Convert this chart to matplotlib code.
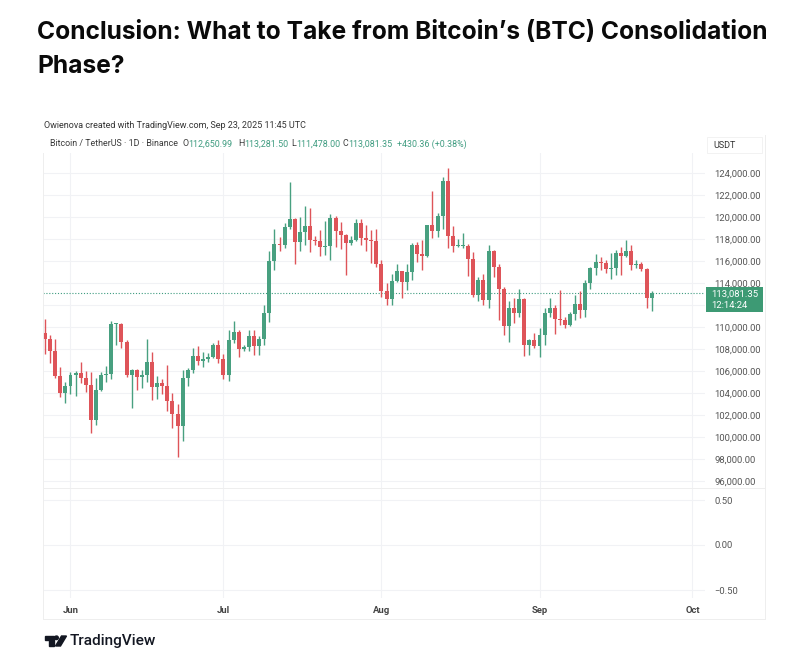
import matplotlib
matplotlib.use("Agg")
import matplotlib.pyplot as plt
import matplotlib.dates as mdates
from matplotlib.patches import Rectangle, Polygon, Ellipse
from matplotlib.lines import Line2D
import pandas as pd

plt.rcParams['font.family'] = ['Roboto', 'DejaVu Sans']

# daily BTC/USDT candles, 27 May - 23 Sep 2025
start_date = "2025-05-27"
opens = [109440, 108938, 107781, 105589, 103985, 104591, 105642, 105857, 105376, 104696,
         101508, 104288, 105600, 105735, 110263, 110274, 108645, 105671, 106066, 105414,
         105594, 106794, 104551, 104886, 104658, 103297, 102120, 100963, 105333, 106083,
         107340, 106947, 107047, 107296, 108356, 107135, 105681, 108849, 109584, 107984,
         108198, 109203, 108262, 108922, 111233, 115987, 117516, 117435, 119086, 119841,
         117758, 118630, 119177, 117924, 117840, 117265, 117380, 119954, 118756, 118340,
         117614, 117919, 119415, 118062, 117950, 117840, 115764, 113297, 112546, 114208,
         115058, 114129, 114992, 117472, 116674, 116462, 119294, 118686, 120134, 123306,
         118295, 117342, 117380, 117405, 116227, 112872, 114274, 112500, 116935, 115438,
         113493, 110111, 111763, 111262, 112566, 108377, 108816, 108246, 109237, 111240,
         111705, 110730, 110659, 110187, 111137, 112065, 111546, 113960, 115333, 115939,
         115800, 115268, 115349, 116697, 116447, 116939, 115632, 115719, 115232, 112651]
highs = [110718, 109300, 108910, 106325, 104990, 105900, 105980, 106794, 105970, 105909,
         105330, 105900, 106500, 110530, 110400, 110384, 108813, 106185, 106200, 106128,
         108952, 107750, 105550, 105250, 106524, 103990, 103000, 106128, 106290, 108135,
         108272, 107735, 107600, 108528, 108789, 107540, 109730, 110529, 109767, 108400,
         109700, 109700, 109200, 111999, 116868, 118869, 118200, 119488, 123218, 119940,
         120000, 120998, 120820, 118316, 118856, 119676, 120247, 120090, 119535, 118453,
         118300, 119800, 119800, 119273, 118792, 118920, 116052, 114000, 114774, 115720,
         115128, 115720, 117630, 117700, 117943, 119312, 122335, 120323, 123667, 124474,
         119216, 117999, 118575, 117543, 116800, 114575, 114820, 117429, 117000, 115700,
         113600, 112380, 112600, 113500, 112659, 108952, 109480, 109912, 111771, 112600,
         112000, 113384, 110900, 111350, 112870, 113238, 114313, 115500, 116665, 116332,
         116100, 116766, 117000, 117317, 117900, 117500, 116100, 115900, 115400, 113282]
lows = [107510, 106700, 105322, 103621, 103100, 103910, 103700, 104870, 104100, 100372,
        101095, 104200, 105000, 105318, 108355, 108086, 105500, 102664, 104300, 104496,
        104979, 103382, 103500, 103950, 102345, 100837, 98200, 99613, 104622, 105800,
        106560, 106356, 106800, 107208, 106733, 105250, 105100, 108530, 107245, 107800,
        107800, 107429, 107460, 108347, 110500, 115222, 116900, 117224, 118905, 115736,
        116950, 117453, 116812, 117453, 116467, 116515, 116128, 117301, 117050, 114723,
        117500, 117840, 117427, 116950, 115800, 115500, 112722, 112000, 112000, 114110,
        112650, 113355, 114259, 115878, 115200, 116361, 118050, 118207, 118920, 117180,
        116803, 117250, 117172, 114640, 112732, 112380, 112000, 111684, 114560, 110600,
        109300, 108666, 110344, 110870, 107350, 107463, 108100, 107255, 108393, 110900,
        109330, 110200, 109952, 110100, 110600, 110783, 110925, 113430, 114768, 115209,
        114900, 114384, 114750, 114723, 116356, 115171, 115400, 115100, 111700, 111478]
closes = [108938, 107781, 105589, 103985, 104591, 105642, 105857, 105376, 104696, 101508,
          104288, 105600, 105735, 110263, 110274, 108645, 105671, 106066, 105414, 105594,
          106794, 104551, 104886, 104658, 103297, 102120, 100963, 105333, 106083, 107340,
          106947, 107047, 107296, 108356, 107135, 105681, 108849, 109584, 107984, 108198,
          109203, 108262, 108922, 111233, 115987, 117516, 117435, 119086, 119841, 117758,
          118630, 119177, 117924, 117840, 117265, 117380, 119954, 118756, 118340, 117614,
          117919, 119415, 118062, 117950, 117840, 115764, 113297, 112546, 114208, 115058,
          114129, 114992, 117472, 116674, 116462, 119294, 118686, 120134, 123306, 118295,
          117342, 117380, 117405, 116227, 112872, 114274, 112500, 116935, 115438, 113493,
          110111, 111763, 111262, 112566, 108377, 108816, 108246, 109237, 111240, 111705,
          110730, 110659, 110187, 111137, 112065, 111546, 113960, 115333, 115939, 115800,
          115268, 115349, 116697, 116447, 116939, 115632, 115719, 115232, 112651, 113081.35]

last_price = 113081.35
price_ticks = list(range(96000, 124001, 2000))
hidden_tick = 112000  # sits under the last-price tag
osc_ticks = [0.5, 0.0, -0.5]
osc_labels = ["0.50", "0.00", "\u22120.50"]
month_ticks = ["2025-06-01", "2025-07-01", "2025-08-01", "2025-09-01", "2025-10-01"]
month_labels = ["Jun", "Jul", "Aug", "Sep", "Oct"]

title_1 = "Conclusion: What to Take from Bitcoin\u2019s (BTC) Consolidation"
title_2 = "Phase?"
credit = "Owienova created with TradingView.com, Sep 23, 2025 11:45 UTC"

UP = "#48a080"
DOWN = "#de5459"
TEAL = "#3f9c80"
GRID = "#f1f2f5"
W, H = 789, 668


def fx(x):
    return x / W


def fy(y):
    return 1 - y / H


fig = plt.figure(figsize=(W / 100, H / 100), dpi=100)
fig.patch.set_facecolor("white")
renderer = fig.canvas.get_renderer()


def fit_text(x, y, s, width, size=10, **kw):
    t = fig.text(fx(x), fy(y), s, fontsize=size, **kw)
    w = t.get_window_extent(renderer).width
    t.set_fontsize(size * width / w)
    return t


# --- headline
t1 = fit_text(37, 39, title_1, 731, size=20, fontweight="bold", color="#0a0a0a",
              va="baseline", family=["Inter", "Roboto", "DejaVu Sans"])
fig.text(fx(37), fy(73), title_2, fontsize=t1.get_fontsize(), fontweight="bold",
         color="#0a0a0a", va="baseline", family=["Inter", "Roboto", "DejaVu Sans"])

# --- screenshot header
fit_text(44, 125, credit, 263, size=7, color="#333333", va="center")
leg = fit_text(50, 144, "Bitcoin / TetherUS \u00b7 1D \u00b7 Binance", 128, size=7,
               color="#3a3a3a", va="center")
ls = leg.get_fontsize()
pieces = [(182.5, "O", "#3a3a3a"), (188, "112,650.99", TEAL),
          (238, "H", "#3a3a3a"), (244, "113,281.50", TEAL),
          (291.5, "L", "#3a3a3a"), (296, "111,478.00", TEAL),
          (342.5, "C", "#3a3a3a"), (348, "113,081.35", TEAL),
          (397, "+430.36 (+0.38%)", TEAL)]
for px, s, c in pieces:
    fig.text(fx(px), fy(144), s, fontsize=ls, color=c, va="center")

# --- panes (pixel geometry of the screenshot)
L, R = 43, 705
P_TOP, P_BOT = 153, 488
O_BOT = 598
PX_DAY = 5.098
PX_PER_1000 = 11.0

ax = fig.add_axes([fx(L), fy(P_BOT), fx(R) - fx(L), (P_BOT - P_TOP) / H])
ax2 = fig.add_axes([fx(L), fy(O_BOT), fx(R) - fx(L), (O_BOT - P_BOT) / H], sharex=ax)

dates = pd.date_range(start_date, periods=len(closes), freq="D")
xs = mdates.date2num(dates)
x0 = xs[0]
ax.set_xlim(x0 - (45 - L) / PX_DAY, x0 + (R - 45) / PX_DAY)
ax.set_ylim(124000 - (P_BOT - 173) / PX_PER_1000 * 1000,
            124000 + (173 - P_TOP) / PX_PER_1000 * 1000)
ax2.set_ylim(-(O_BOT - 545) / 90, (545 - P_BOT) / 90)

cols = [UP if c >= o else DOWN for o, c in zip(opens, closes)]
bottoms = [min(o, c) for o, c in zip(opens, closes)]
heights = [max(abs(c - o), 80) for o, c in zip(opens, closes)]
ax.vlines(xs, lows, highs, colors=cols, linewidth=1.0, zorder=3)
ax.bar(xs, heights, bottom=bottoms, width=0.78, color=cols, linewidth=0, zorder=4)

ax.axhline(last_price, color=TEAL, linewidth=0.8, linestyle=(0, (1, 1.6)), zorder=2)

month_x = mdates.date2num(pd.to_datetime(month_ticks))
for a in (ax, ax2):
    a.set_facecolor("white")
    for sp in a.spines.values():
        sp.set_visible(False)
    a.yaxis.tick_right()
    a.tick_params(axis="y", length=0, pad=7, labelsize=6.8, labelcolor="#555555")
    a.tick_params(axis="x", length=0)
    for m in month_x:
        a.axvline(m, color=GRID, linewidth=0.8, zorder=0)

ax.set_yticks(price_ticks)
ax.set_yticklabels(["" if p == hidden_tick else f"{p:,.2f}" for p in price_ticks])
for p in price_ticks:
    ax.axhline(p, color=GRID, linewidth=0.8, zorder=0)
ax.tick_params(axis="x", labelbottom=False)

ax2.set_yticks(osc_ticks)
ax2.set_yticklabels(osc_labels)
for v in osc_ticks:
    ax2.axhline(v, color=GRID, linewidth=0.8, zorder=0)
ax2.set_xticks(month_x)
ax2.set_xticklabels(month_labels)
ax2.tick_params(axis="x", pad=6, labelsize=6.8, labelcolor="#444444")
for lab in ax2.get_xticklabels():
    lab.set_fontweight("bold")

# last price tag on the scale
fig.patches.append(Rectangle((fx(706), fy(312)), (763 - 706) / W, 25 / H,
                             transform=fig.transFigure, facecolor="#3d9a74",
                             edgecolor="none", zorder=10))
fig.text(fx(711), fy(294.5), f"{last_price:,.2f}", fontsize=6.8, color="white",
         va="center", zorder=11)
fig.text(fx(711), fy(305.5), "12:14:24", fontsize=6.8, color="white",
         va="center", zorder=11)

# USDT header box
fig.patches.append(Rectangle((fx(707), fy(153)), 55 / W, 16 / H, transform=fig.transFigure,
                             facecolor="white", edgecolor="#f0f0f0", linewidth=0.6))
fig.text(fx(713), fy(145), "USDT", fontsize=6.5, color="#333333", va="center")

# frame lines of the screenshot
frame = "#eeeeee"
for xa, ya, xb, yb in [(L, P_TOP, L, 619), (765, 135, 765, 619), (L, 619, 765, 619),
                       (L, P_BOT, 765, P_BOT)]:
    fig.lines.append(Line2D([fx(xa), fx(xb)], [fy(ya), fy(yb)], transform=fig.transFigure,
                            color=frame, linewidth=0.7))

# TradingView logo
ink = "#131722"
fig.patches.append(Polygon([(fx(45), fy(636)), (fx(53.5), fy(636)), (fx(53.5), fy(646)),
                            (fx(49.5), fy(646)), (fx(49.5), fy(639.5)), (fx(45), fy(639.5))],
                           closed=True, transform=fig.transFigure, color=ink))
fig.patches.append(Ellipse((fx(56.5), fy(637.8)), 3.6 / W, 3.6 / H,
                           transform=fig.transFigure, color=ink))
fig.patches.append(Polygon([(fx(61.5), fy(636)), (fx(66.5), fy(636)), (fx(60.5), fy(646)),
                            (fx(55.5), fy(646))],
                           closed=True, transform=fig.transFigure, color=ink))
fit_text(70, 641, "TradingView", 86, size=12, color=ink, va="center",
         fontweight="medium")

fig.savefig("out.png", dpi=100, facecolor="white")
